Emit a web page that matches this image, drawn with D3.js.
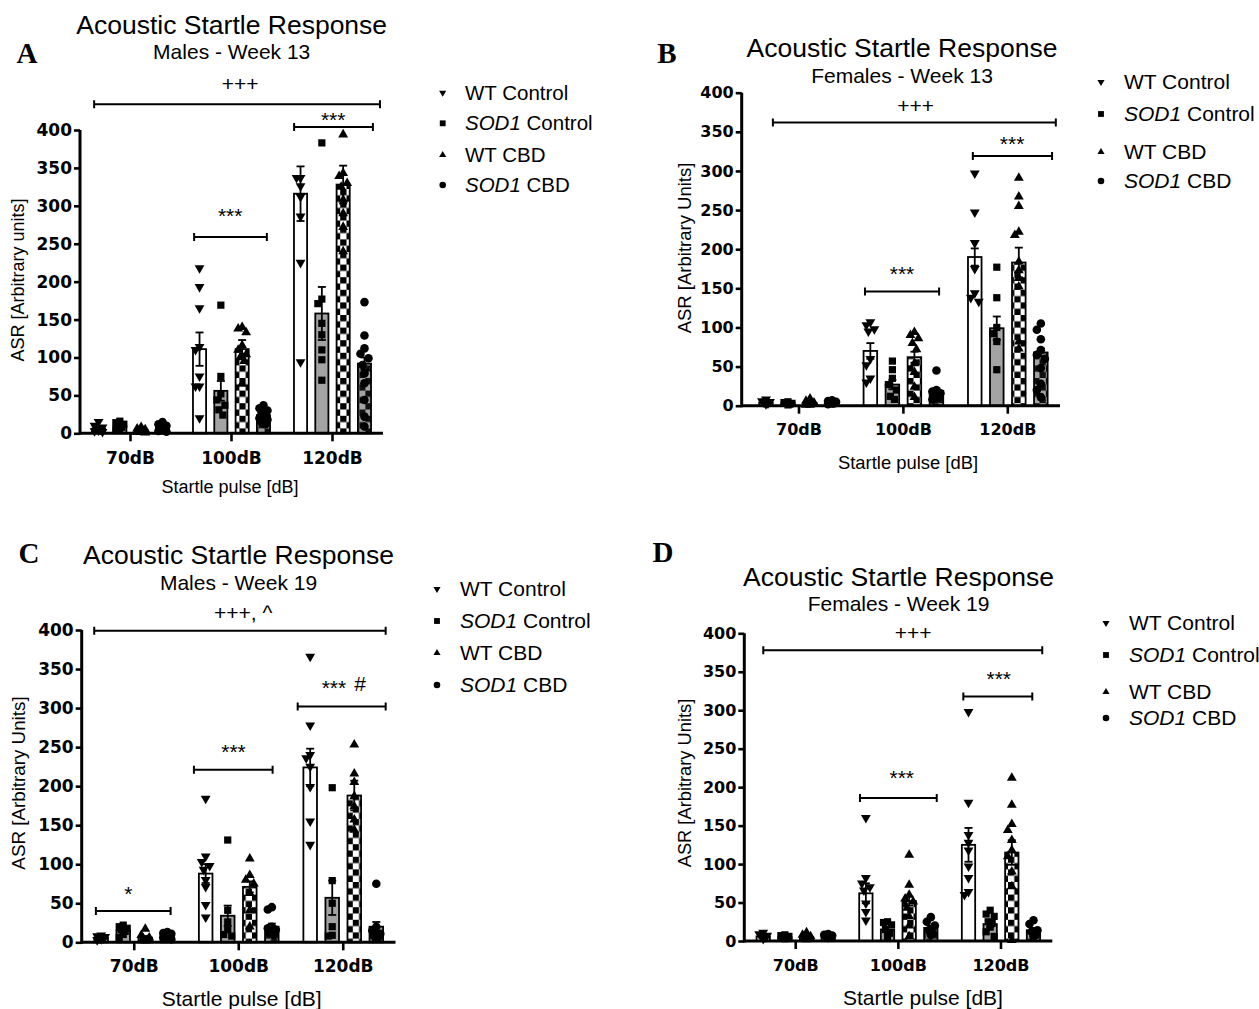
<!DOCTYPE html>
<html>
<head>
<meta charset="utf-8">
<script src="https://d3js.org/d3.v7.min.js"></script>
<style>
  body { margin: 0; background: #fff; }
  text { font-family: "Liberation Sans", Arial, sans-serif; fill: #000; }
</style>
</head>
<body>
<svg width="1259" height="1009"></svg>
<script>
const categories = ["70dB", "100dB", "120dB"];
const groups = ["WT Control", "SOD1 Control", "WT CBD", "SOD1 CBD"];
const yTicks = [0, 50, 100, 150, 200, 250, 300, 350, 400];

// bar means and SEM, [category][group]
const meanA = [[6, 9, 4, 7], [111, 56, 111, 24], [316, 158, 328, 92]];
const semA  = [[2, 2, 1, 2], [22, 13, 12, 3], [36, 35, 25, 8]];
const meanB = [[4, 3, 3, 4], [70, 27, 62, 19], [190, 99, 183, 68]];
const semB  = [[1, 1, 1, 1], [10, 6, 7, 3], [11, 15, 19, 5]];
const meanC = [[6, 15, 6, 9], [88, 34, 71, 20], [224, 57, 188, 20]];
const semC  = [[1, 3, 2, 1], [12, 13, 7, 4], [24, 22, 19, 6]];
const meanD = [[6, 5, 5, 6], [62, 15, 52, 17], [125, 22, 115, 14]];
const semD  = [[1, 1, 1, 1], [13, 3, 6, 3], [22, 4, 16, 3]];

// individual animals, [category][group]
const ptsA = [
  [[15, 10, 8, 6, 5, 4, 3, 2], [16, 14, 12, 10, 8, 6, 4], [8, 6, 5, 4, 3, 2, 2, 1], [15, 12, 10, 7, 5, 4, 3, 2]],
  [[218, 193, 165, 114, 110, 75, 62, 62, 20], [169, 75, 52, 44, 37, 31, 24], [140, 138, 133, 116, 110, 104, 100, 95, 65], [37, 33, 30, 27, 24, 22, 20, 18, 15, 12]],
  [[337, 337, 326, 312, 286, 225, 94], [383, 177, 171, 145, 130, 110, 97, 70], [394, 343, 339, 330, 325, 308, 290, 272, 240], [173, 129, 112, 105, 99, 90, 79, 66, 44, 22, 9]]
];
const ptsB = [
  [[8, 6, 5, 4, 3, 2], [5, 4, 3, 3, 2, 1], [9, 6, 4, 3, 2, 1, 1], [7, 6, 5, 4, 3, 3, 2]],
  [[107, 103, 98, 95, 60, 52, 35, 30], [57, 46, 35, 27, 20, 12, 8], [94, 90, 86, 80, 72, 54, 43, 24, 11], [45, 20, 18, 16, 14, 12, 9, 8]],
  [[297, 247, 208, 175, 144, 138, 133], [177, 138, 100, 92, 82, 46], [291, 267, 255, 222, 218, 184, 173, 163, 152, 82, 73], [105, 97, 85, 71, 65, 60, 48, 28, 20, 11]]
];
const ptsC = [
  [[9, 8, 7, 6, 5, 4, 3], [22, 20, 18, 16, 14, 10, 6], [17, 9, 6, 5, 3, 2], [13, 12, 11, 10, 8, 7, 6, 4]],
  [[184, 110, 103, 98, 93, 80, 71, 48, 32], [131, 41, 26, 16, 10, 8], [107, 86, 80, 75, 63, 41, 20], [45, 42, 20, 18, 16, 12, 9]],
  [[366, 278, 240, 236, 225, 199, 155, 125], [198, 79, 50, 20, 9, 8], [253, 216, 205, 187, 174, 157, 144], [75, 20, 15, 11, 8, 6]]
];
const ptsD = [
  [[11, 9, 7, 6, 5, 3], [8, 7, 6, 5, 4, 3], [11, 8, 6, 4, 3, 2], [9, 8, 7, 6, 5, 4]],
  [[160, 82, 75, 70, 66, 49, 38, 27], [25, 24, 21, 15, 10, 6], [112, 73, 60, 55, 51, 43, 32, 20, 6], [31, 25, 20, 14, 10, 8]],
  [[298, 180, 138, 128, 118, 97, 82, 64, 60], [40, 35, 32, 25, 23, 18, 12, 6], [212, 177, 152, 144, 131, 118, 110, 90, 71, 1], [27, 22, 14, 12, 8, 6]]
];

// significance brackets: x in category units (0 = 70dB), v in ASR units
const bracketsA = [
  {x0: -0.36, x1: 2.47, v: 434, label: "+++", lx: 1.085, lv: 461},
  {x0: 1.62, x1: 2.40, v: 404, label: "***", lx: 2.007, lv: 420},
  {x0: 0.63, x1: 1.35, v: 259, label: "***", lx: 0.987, lv: 294}
];
const bracketsB = [
  {x0: -0.25, x1: 2.46, v: 362, label: "+++", lx: 1.118, lv: 384},
  {x0: 1.665, x1: 2.424, v: 319, label: "***", lx: 2.041, lv: 341},
  {x0: 0.632, x1: 1.342, v: 146, label: "***", lx: 0.987, lv: 175}
];
const bracketsC = [
  {x0: -0.383, x1: 2.406, v: 399, label: "+++, ^", lx: 1.043, lv: 422},
  {x0: 1.564, x1: 2.406, v: 302, label: "***", lx: 1.911, lv: 332},
  {x0: null, label: "#", lx: 2.16, lv: 331},
  {x0: 0.571, x1: 1.324, v: 221, label: "***", lx: 0.95, lv: 250},
  {x0: -0.367, x1: 0.348, v: 40, label: "*", lx: -0.057, lv: 69}
];
const bracketsD = [
  {x0: -0.316, x1: 2.402, v: 378, label: "+++", lx: 1.143, lv: 401},
  {x0: 1.633, x1: 2.305, v: 318, label: "***", lx: 1.978, lv: 347},
  {x0: 0.626, x1: 1.374, v: 186, label: "***", lx: 1.033, lv: 219}
];

const panels = [
  {letter: "A", lxy: [27, 53], title: "Males - Week 13", ylab: "ASR [Arbitrary units]",
   mean: meanA, sem: semA, pts: ptsA, br: bracketsA,
   axisX: 80, x0: 80, x1: 383, y0: 433.3, y1: 130, tfs: 17, tickY: 457.7,
   tx: 231.7, ty: 25, sy: 51.7, ylx: 18, yly: 280, ylfs: 18, xlx: 230, xly: 486.7, xlfs: 18,
   lgMx: 442.7, lgTx: 465, lgY: [92.7, 123.3, 155, 185], lgfs: 20.5},
  {letter: "B", lxy: [667, 53], title: "Females - Week 13", ylab: "ASR [Arbitrary Units]",
   mean: meanB, sem: semB, pts: ptsB, br: bracketsB,
   axisX: 741.7, x0: 746.8, x1: 1060, y0: 405.7, y1: 92.7, tfs: 16, tickY: 429,
   tx: 902, ty: 48, sy: 76, ylx: 685, yly: 248, ylfs: 18.5, xlx: 908, xly: 463, xlfs: 18.4,
   lgMx: 1101, lgTx: 1124, lgY: [82, 114, 152, 181], lgfs: 21},
  {letter: "C", lxy: [29, 553], title: "Males - Week 19", ylab: "ASR [Arbitrary Units]",
   mean: meanC, sem: semC, pts: ptsC, br: bracketsC,
   axisX: 81.7, x0: 82, x1: 395.5, y0: 942.3, y1: 630, tfs: 17, tickY: 965.7,
   tx: 238.5, ty: 555, sy: 582.7, ylx: 18, yly: 783, ylfs: 18.8, xlx: 241.7, xly: 998.3, xlfs: 21,
   lgMx: 437, lgTx: 460, lgY: [589, 621, 653, 685], lgfs: 21},
  {letter: "D", lxy: [663, 552], title: "Females - Week 19", ylab: "ASR [Arbitrary Units]",
   mean: meanD, sem: semD, pts: ptsD, br: bracketsD,
   axisX: 744.3, x0: 744.4, x1: 1052.3, y0: 941, y1: 633.3, tfs: 16, tickY: 965,
   tx: 898.5, ty: 576.7, sy: 603.3, ylx: 685, yly: 783, ylfs: 18.3, xlx: 923, xly: 998, xlfs: 21,
   lgMx: 1106, lgTx: 1129, lgY: [623, 655, 692, 718], lgfs: 21}
];

const svg = d3.select("svg");
const defs = svg.append("defs");

function checker(id, bg, fg, c) {
  const p = defs.append("pattern").attr("id", id).attr("patternUnits", "userSpaceOnUse")
    .attr("width", c * 2).attr("height", c * 2);
  p.append("rect").attr("width", c * 2).attr("height", c * 2).attr("fill", bg);
  p.append("rect").attr("width", c).attr("height", c).attr("fill", fg);
  p.append("rect").attr("x", c).attr("y", c).attr("width", c).attr("height", c).attr("fill", fg);
}
checker("chkWT", "#fff", "#000", 6.3);
checker("chkSOD", "#a3a3a3", "#111", 6.3);

const fills = ["#fff", "#a3a3a3", "url(#chkWT)", "url(#chkSOD)"];
const shapes = [
  {type: d3.symbolTriangle, rot: 180, size: 42},
  {type: d3.symbolSquare, rot: 0, size: 52},
  {type: d3.symbolTriangle, rot: 0, size: 42},
  {type: d3.symbolCircle, rot: 0, size: 58}
];
const jitter = [0, -4, 4, -2, 2];

panels.forEach(p => {
  const g = svg.append("g");
  const xc = d3.scaleBand().domain(categories).range([p.x0, p.x1]);
  const xg = d3.scaleBand().domain(groups).range([0, xc.bandwidth()])
    .paddingInner(0.384).paddingOuter(0.562);
  const y = d3.scaleLinear().domain([0, 400]).range([p.y0, p.y1]);
  const xu = d3.scaleLinear().domain([0, 2])
    .range([xc(categories[0]) + xc.bandwidth() / 2, xc(categories[2]) + xc.bandwidth() / 2]);

  const cells = [];
  categories.forEach((c, ci) => groups.forEach((gr, gi) => {
    cells.push({c, gr, gi, m: p.mean[ci][gi], s: p.sem[ci][gi], pts: p.pts[ci][gi],
      cx: xc(c) + xg(gr) + xg.bandwidth() / 2});
  }));

  // bars
  g.selectAll("rect.bar").data(cells).enter().append("rect")
    .attr("x", d => xc(d.c) + xg(d.gr))
    .attr("width", xg.bandwidth())
    .attr("y", d => y(d.m))
    .attr("height", d => y(0) - y(d.m))
    .attr("fill", d => fills[d.gi])
    .attr("stroke", "#000").attr("stroke-width", 1.8);

  // points
  cells.forEach(d => {
    const sorted = d.pts.slice().sort((a, b) => b - a);
    let prev = -99, k = 0;
    sorted.forEach(v => {
      const py = y(v);
      k = Math.abs(py - prev) < 7 ? k + 1 : 0;
      prev = py;
      const sh = shapes[d.gi];
      g.append("path")
        .attr("d", d3.symbol().type(sh.type).size(sh.size)())
        .attr("transform", `translate(${d.cx + jitter[k % 5]},${py}) rotate(${sh.rot})`)
        .attr("fill", "#000");
    });
  });

  // error bars
  const eb = g.selectAll("g.eb").data(cells).enter().append("g")
    .attr("stroke", "#000").attr("stroke-width", 1.8);
  eb.append("line").attr("x1", d => d.cx).attr("x2", d => d.cx)
    .attr("y1", d => y(Math.max(0, d.m - d.s))).attr("y2", d => y(d.m + d.s));
  eb.append("line").attr("x1", d => d.cx - 4).attr("x2", d => d.cx + 4)
    .attr("y1", d => y(d.m + d.s)).attr("y2", d => y(d.m + d.s));
  eb.append("line").attr("x1", d => d.cx - 4).attr("x2", d => d.cx + 4)
    .attr("y1", d => y(Math.max(0, d.m - d.s))).attr("y2", d => y(Math.max(0, d.m - d.s)));

  // axes
  const yAxis = g.append("g").attr("transform", `translate(${p.axisX},0)`)
    .call(d3.axisLeft(y).tickValues(yTicks).tickSize(6).tickSizeOuter(0).tickPadding(2));
  const xAxis = g.append("g").attr("transform", `translate(0,${p.y0})`)
    .call(d3.axisBottom(xc).tickSize(8).tickSizeOuter(0)
      .tickPadding(p.tickY - p.y0 - 8 - 0.72 * p.tfs + 0.36 * p.tfs));
  xAxis.select(".domain").remove();
  yAxis.select(".domain").remove();
  [yAxis, xAxis].forEach(a => {
    a.selectAll("line").attr("stroke-width", 2.6);
    a.selectAll("text").style("font-family", "'DejaVu Sans', sans-serif")
      .style("font-weight", "bold").style("font-size", p.tfs + "px");
  });
  g.append("line").attr("x1", p.axisX).attr("x2", p.x1).attr("y1", p.y0).attr("y2", p.y0)
    .attr("stroke", "#000").attr("stroke-width", 3);
  g.append("line").attr("x1", p.axisX).attr("x2", p.axisX).attr("y1", p.y0 + 1.5).attr("y2", p.y1)
    .attr("stroke", "#000").attr("stroke-width", 3);

  // brackets
  p.br.forEach(b => {
    if (b.x0 !== null) {
      const bx0 = xu(b.x0), bx1 = xu(b.x1), by = y(b.v);
      g.append("path")
        .attr("d", `M${bx0},${by - 4}V${by + 4}M${bx0},${by}H${bx1}M${bx1},${by - 4}V${by + 4}`)
        .attr("stroke", "#000").attr("stroke-width", 2).attr("fill", "none");
    }
    const off = b.label[0] === "*" ? 0.585 : 0.35;
    g.append("text").attr("x", xu(b.lx)).attr("y", y(b.lv) + off * 21)
      .attr("text-anchor", "middle").style("font-size", "21px").text(b.label);
  });

  // titles
  g.append("text").attr("x", p.tx).attr("y", p.ty).attr("dy", "0.35em").attr("text-anchor", "middle")
    .style("font-size", "26.5px").text("Acoustic Startle Response");
  g.append("text").attr("x", p.tx).attr("y", p.sy).attr("dy", "0.35em").attr("text-anchor", "middle")
    .style("font-size", "21px").text(p.title);
  g.append("text").attr("x", p.lxy[0]).attr("y", p.lxy[1]).attr("dy", "0.35em").attr("text-anchor", "middle")
    .style("font-family", "'Liberation Serif', 'Times New Roman', serif").style("font-weight", "bold")
    .style("font-size", "29px").text(p.letter);

  // axis titles
  g.append("text").attr("transform", `translate(${p.ylx},${p.yly}) rotate(-90)`)
    .attr("dy", "0.35em").attr("text-anchor", "middle").style("font-size", p.ylfs + "px").text(p.ylab);
  g.append("text").attr("x", p.xlx).attr("y", p.xly).attr("dy", "0.35em").attr("text-anchor", "middle")
    .style("font-size", p.xlfs + "px").text("Startle pulse [dB]");

  // legend
  groups.forEach((gr, gi) => {
    const ly = p.lgY[gi];
    const sh = shapes[gi];
    g.append("path").attr("d", d3.symbol().type(sh.type).size(gi === 1 || gi === 3 ? 34 : 22)())
      .attr("transform", `translate(${p.lgMx},${ly}) rotate(${sh.rot})`).attr("fill", "#000");
    const t = g.append("text").attr("x", p.lgTx).attr("y", ly).attr("dy", "0.35em")
      .style("font-size", p.lgfs + "px");
    if (gr.startsWith("SOD1")) {
      t.append("tspan").style("font-style", "italic").text("SOD1");
      t.append("tspan").text(gr.slice(4));
    } else {
      t.text(gr);
    }
  });
});
</script>
</body>
</html>
